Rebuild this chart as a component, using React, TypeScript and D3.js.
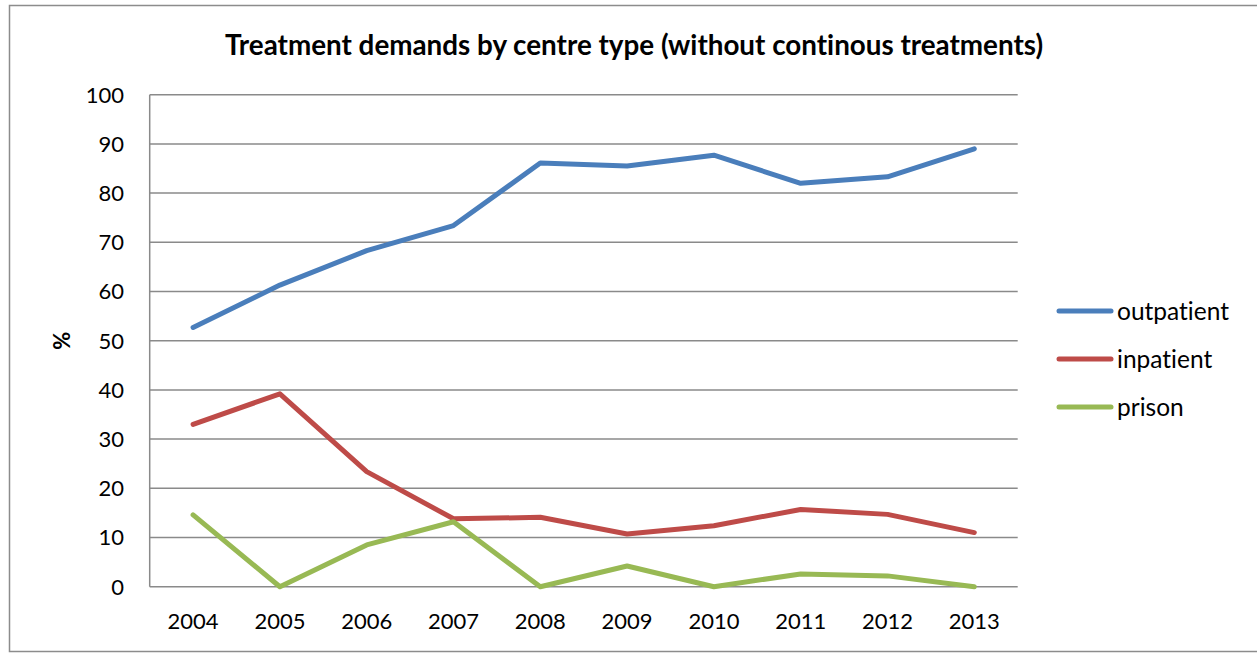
import React from "react";
import * as d3 from "d3";

const years = ["2004", "2005", "2006", "2007", "2008", "2009", "2010", "2011", "2012", "2013"];
const outpatient = [52.7, 61.3, 68.3, 73.4, 86.1, 85.5, 87.7, 82.0, 83.3, 89.0];
const inpatient = [33.0, 39.2, 23.4, 13.8, 14.1, 10.7, 12.4, 15.7, 14.7, 11.0];
const prison = [14.6, 0, 8.5, 13.2, 0, 4.2, 0, 2.6, 2.2, 0];
const yTicks = [0, 10, 20, 30, 40, 50, 60, 70, 80, 90, 100];
const seriesNames = ["outpatient", "inpatient", "prison"];
const seriesColors = ["#4A7EBB", "#BE4B48", "#98B954"];
const title = "Treatment demands by centre type (without continous treatments)";

const W = 1257;
const H = 653;
const plot = { left: 149.7, right: 1017.7, top: 94.7, bottom: 586.7 };
const FONT = "Lato, 'Open Sans', sans-serif";

export default function App() {
  const x = d3.scaleBand<string>().domain(years).range([plot.left, plot.right]);
  const y = d3.scaleLinear().domain([0, 100]).range([plot.bottom, plot.top]);
  const series = [outpatient, inpatient, prison];
  const line = d3
    .line<number>()
    .x((_, i) => (x(years[i]) as number) + x.bandwidth() / 2)
    .y((d) => y(d));

  return (
    <svg
      width={W}
      height={H}
      style={{ position: "absolute", left: 0, top: 0, background: "#fff", fontVariantLigatures: "none" }}
      fontFamily={FONT}
    >
      <rect x={9.5} y={5.5} width={1260} height={646} fill="#fff" stroke="#8c8c8c" strokeWidth={1.5} />
      <text x={634} y={55} textAnchor="middle" fontWeight="bold" fontSize={27.8} fill="#000">
        {title}
      </text>
      {yTicks.map((t) => (
        <g key={t}>
          <line x1={plot.left} x2={plot.right} y1={y(t)} y2={y(t)} stroke="#8a8a8a" strokeWidth={1.5} />
          <text x={124} y={y(t)} dy="0.36em" textAnchor="end" fontSize={22} fill="#000">
            {t}
          </text>
        </g>
      ))}
      <line x1={plot.left} x2={plot.left} y1={plot.top} y2={plot.bottom} stroke="#8a8a8a" strokeWidth={1.5} />
      {years.map((yr) => (
        <text
          key={yr}
          x={(x(yr) as number) + x.bandwidth() / 2}
          y={621}
          dy="0.36em"
          textAnchor="middle"
          fontSize={22}
          fill="#000"
        >
          {yr}
        </text>
      ))}
      <text
        transform={`translate(62,${y(50)}) rotate(-90)`}
        textAnchor="middle"
        dy="0.36em"
        fontWeight="bold"
        fontSize={22}
        fill="#000"
      >
        %
      </text>
      {series.map((s, i) => (
        <path
          key={seriesNames[i]}
          d={line(s) || ""}
          fill="none"
          stroke={seriesColors[i]}
          strokeWidth={5}
          strokeLinejoin="round"
          strokeLinecap="round"
        />
      ))}
      {seriesNames.map((n, i) => {
        const ly = 311 + i * 48;
        return (
          <g key={n}>
            <line x1={1059} x2={1111} y1={ly} y2={ly} stroke={seriesColors[i]} strokeWidth={5} strokeLinecap="round" />
            <text x={1117} y={ly} dy="0.36em" fontSize={24.5} fill="#000">
              {n}
            </text>
          </g>
        );
      })}
    </svg>
  );
}
